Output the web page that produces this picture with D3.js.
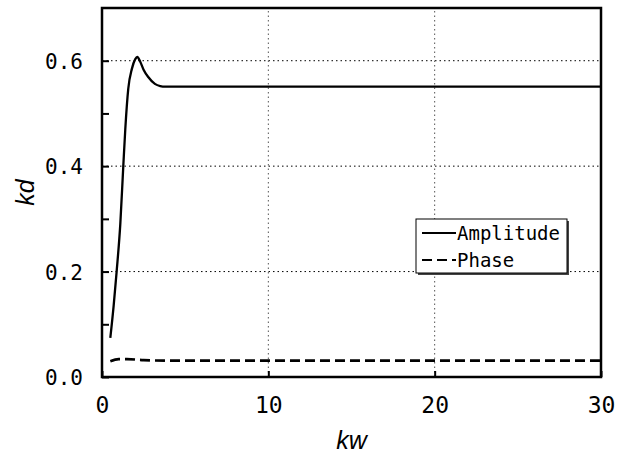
<!DOCTYPE html>
<html lang="en">
<head>
<meta charset="utf-8">
<title>kd vs kw</title>
<script src="https://d3js.org/d3.v7.min.js"></script>
<style>
  body{margin:0;background:#fff;}
  svg text{font-family:"DejaVu Sans Mono","Liberation Mono",monospace;fill:#000;}
  .axlab{font-family:"Liberation Sans",Arial,sans-serif;font-style:italic;}
</style>
</head>
<body>
<div id="chart1"></div>
<script>
// values
var ampKw = [0.5, 0.7, 0.88, 1.1, 1.28, 1.4, 1.58, 1.8, 2.0, 2.12, 2.3, 2.5, 2.78, 3.18, 3.5, 3.8, 5, 10, 20, 30]
var ampKd = [0.074, 0.135, 0.2, 0.29, 0.4, 0.47, 0.547, 0.585, 0.603, 0.607, 0.598, 0.583, 0.569, 0.556, 0.552, 0.551, 0.551, 0.551, 0.551, 0.551]
var phKw = [0.5, 1.0, 1.5, 2.5, 4, 10, 20, 30]
var phKd = [0.03, 0.034, 0.034, 0.032, 0.031, 0.031, 0.031, 0.031]
var xTicks = [0, 10, 20, 30]
var yTicks = [0, 0.2, 0.4, 0.6]
var yMinor = [0.1, 0.3, 0.5]
var seriesNames = ["Amplitude", "Phase"]

var W = 621, H = 455
var svg = d3.select("#chart1").append("svg").attr("width", W).attr("height", H)

var x = d3.scaleLinear().domain([0, 30]).range([102, 601])
var y = d3.scaleLinear().domain([0, 0.7]).range([377, 8])

// dotted grid
svg.selectAll(".hg").data(yTicks.filter(function(d){ return d > 0 }))
  .enter().append("line")
  .attr("x1", x(0)).attr("x2", x(30))
  .attr("y1", function(d){ return y(d) }).attr("y2", function(d){ return y(d) })
  .attr("stroke", "#000").attr("stroke-width", 1).attr("stroke-dasharray", "1.5,3")
svg.selectAll(".vg").data(xTicks.filter(function(d){ return d > 0 && d < 30 }))
  .enter().append("line")
  .attr("x1", function(d){ return x(d) }).attr("x2", function(d){ return x(d) })
  .attr("y1", y(0)).attr("y2", y(0.7))
  .attr("stroke", "#555").attr("stroke-width", 1).attr("stroke-dasharray", "1.5,3")

// curves
var ampLine = d3.line().curve(d3.curveMonotoneX)
  .x(function(d, i){ return x(ampKw[i]) }).y(function(d){ return y(d) })
svg.append("path").attr("d", ampLine(ampKd))
  .attr("fill", "none").attr("stroke", "#000").attr("stroke-width", 2.3)

var phLine = d3.line().curve(d3.curveMonotoneX)
  .x(function(d, i){ return x(phKw[i]) }).y(function(d){ return y(d) })
svg.append("path").attr("d", phLine(phKd))
  .attr("fill", "none").attr("stroke", "#000").attr("stroke-width", 2.6)
  .attr("stroke-dasharray", "10,5")

// axes with inward ticks
var yAxis = d3.axisLeft(y).tickValues(yTicks).tickSize(-7).tickPadding(19)
  .tickFormat(d3.format(".1f"))
var yAxisMinor = d3.axisLeft(y).tickValues(yMinor).tickSize(-7).tickFormat("")
var xAxis = d3.axisBottom(x).tickValues(xTicks).tickSize(-6).tickPadding(20)

var gy = svg.append("g").attr("transform", "translate(" + x(0) + ",0)").call(yAxis)
svg.append("g").attr("transform", "translate(" + x(0) + ",0)").call(yAxisMinor)
  .select(".domain").remove()
var gx = svg.append("g").attr("transform", "translate(0," + y(0) + ")").call(xAxis)
svg.selectAll(".domain").remove()
svg.selectAll(".tick line").attr("stroke", "#000").attr("stroke-width", 2)
gy.selectAll("text").style("font-size", "21px").attr("dy", "0.36em")
gx.selectAll("text").style("font-size", "23px").attr("dy", "0.71em")

// frame
svg.append("rect").attr("x", x(0)).attr("y", y(0.7))
  .attr("width", x(30) - x(0)).attr("height", y(0) - y(0.7))
  .attr("fill", "none").attr("stroke", "#000").attr("stroke-width", 2.5)

// axis titles
svg.append("text").attr("class", "axlab")
  .attr("transform", "translate(34," + y(0.35) + ") rotate(-90)")
  .attr("text-anchor", "middle").style("font-size", "25px").text("kd")
svg.append("text").attr("class", "axlab")
  .attr("x", x(15)).attr("y", 449)
  .attr("text-anchor", "middle").style("font-size", "25px").text("kw")

// legend
var lg = svg.append("g").attr("transform", "translate(416,219)")
lg.append("rect").attr("x", 2).attr("y", 2).attr("width", 151).attr("height", 54).attr("fill", "#444")
lg.append("rect").attr("width", 151).attr("height", 54)
  .attr("fill", "#fff").attr("stroke", "#000").attr("stroke-width", 1)
var dashes = [null, "10,5"]
seriesNames.forEach(function(name, i){
  var yy = 14 + i * 27
  lg.append("line").attr("x1", 6).attr("x2", 40).attr("y1", yy).attr("y2", yy)
    .attr("stroke", "#000").attr("stroke-width", 2)
    .attr("stroke-dasharray", dashes[i])
  lg.append("text").attr("x", 41).attr("y", yy).attr("dy", "0.36em")
    .style("font-size", "19px").text(name)
})
</script>
</body>
</html>
